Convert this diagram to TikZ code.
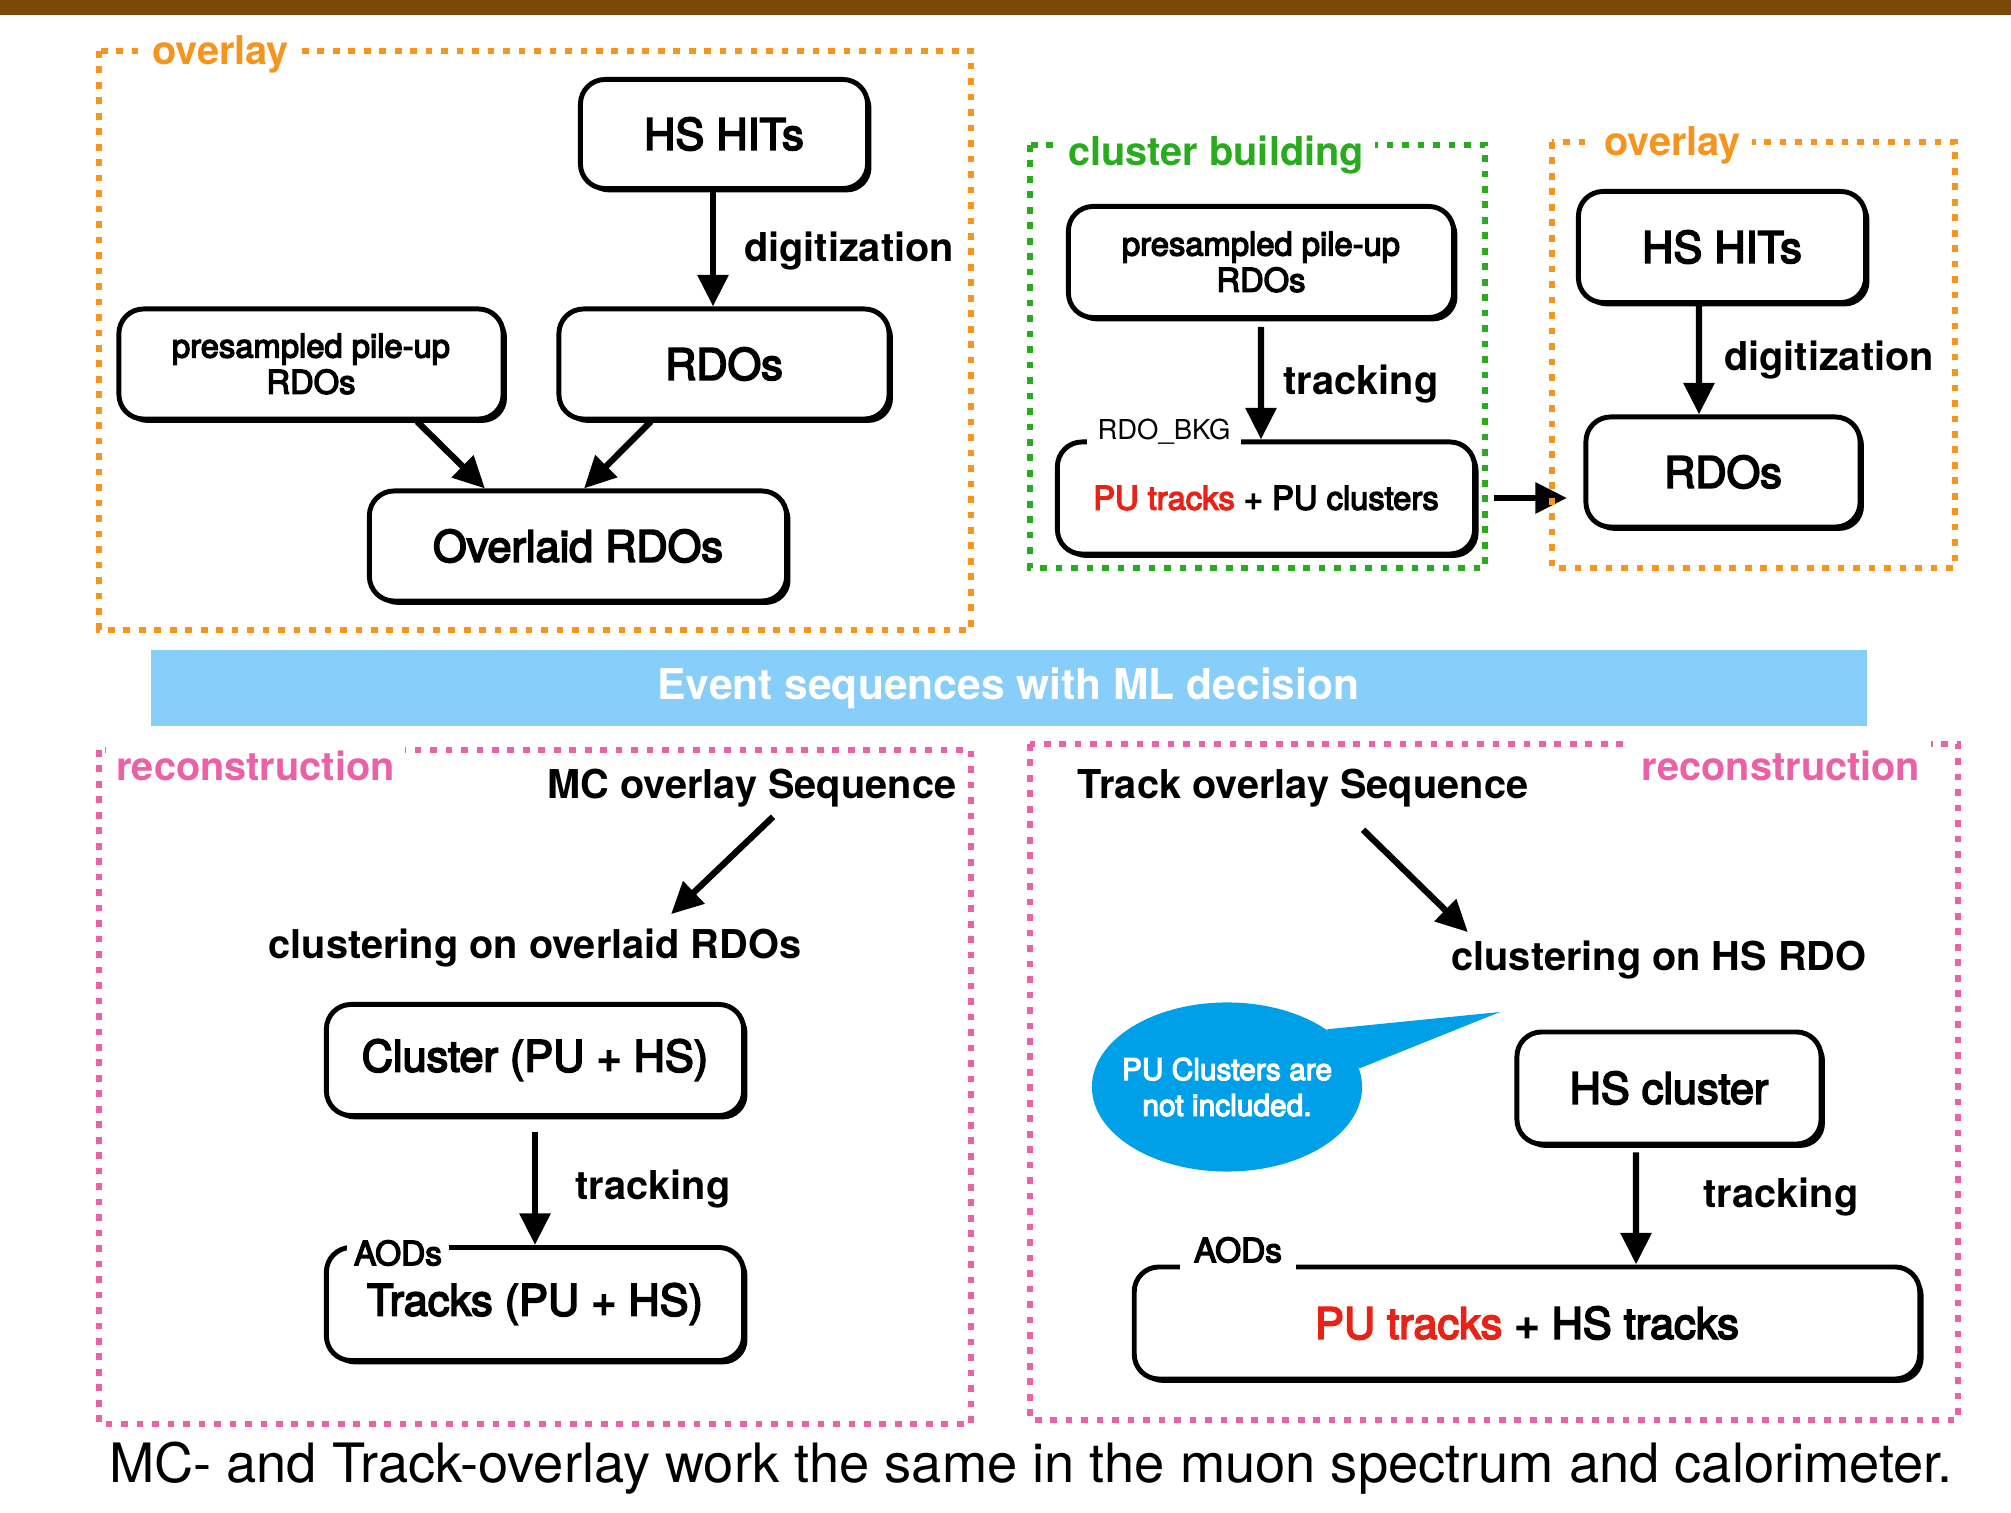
\documentclass[tikz,border=0pt]{standalone}
\usepackage{fontspec}
\setmainfont{TeX Gyre Heros}
\newfontfamily\medfont[FakeBold=4]{TeX Gyre Heros}
\usetikzlibrary{arrows.meta,shadows,shapes.geometric}

\definecolor{ovlorange}{RGB}{247,148,30}
\definecolor{clsgreen}{RGB}{40,172,30}
\definecolor{recpink}{RGB}{236,96,166}
\definecolor{bandblue}{RGB}{135,206,250}
\definecolor{bubbleblue}{RGB}{0,160,233}
\definecolor{putred}{RGB}{232,34,22}
\definecolor{barbrown}{RGB}{124,72,10}

\tikzset{
  box/.style={draw, line width=1.4pt, rounded corners=7pt, fill=white, align=center, inner sep=0pt,
    drop shadow={shadow xshift=1.1pt, shadow yshift=-1.1pt, opacity=1, fill=black},
    font=\medfont\fontsize{12.3}{14}\selectfont},
  smallbox/.style={box, font=\medfont\fontsize{9.3}{10.3}\selectfont},
  lbl/.style={font=\bfseries\fontsize{11.3}{13}\selectfont, inner sep=1pt, yshift=-1pt},
  frame/.style={line width=1.9pt, dash pattern=on 1.9pt off 2.5pt},
  frametitle/.style={fill=white, inner sep=3pt, font=\bfseries\fontsize{11.3}{13}\selectfont},
  tag/.style={fill=white, inner sep=2pt, font=\medfont\fontsize{9.5}{11}\selectfont},
  flow/.style={line width=1.8pt, -{Triangle[length=9pt,width=8.5pt]}},
}

\begin{document}
\begin{tikzpicture}[x=0.01cm, y=-0.01cm]
\useasboundingbox (0,0) rectangle (2011,1513);
\fill[barbrown] (0,0) rectangle (2011,15);

% overlay (MC)
\draw[frame, ovlorange] (99,51) rectangle (971,630);
\node[frametitle, text=ovlorange, anchor=west] (ovltitle) at (141,54) {overlay};
\node[box, minimum width=2.87cm, minimum height=1.09cm] (hits) at (724,134) {HS HITs};
\node[smallbox, minimum width=3.84cm, minimum height=1.10cm] (pileup) at (311,364) {presampled pile-up\\RDOs};
\node[box, minimum width=3.30cm, minimum height=1.10cm] (rdos) at (724,364) {RDOs};
\node[box, minimum width=4.17cm, minimum height=1.10cm] (overlaid) at (578,546) {Overlaid RDOs};
\draw[flow] ([xshift=-0.11cm]hits.south) -- ([xshift=-0.11cm]rdos.north);
\node[lbl] (digi) at (849,248) {digitization};
\draw[flow] ([xshift=1.06cm]pileup.south) -- ([xshift=-0.93cm]overlaid.north);
\draw[flow] ([xshift=-0.73cm]rdos.south) -- ([xshift=0.06cm]overlaid.north);

% cluster building
\draw[frame, clsgreen] (1030,145) rectangle (1485,568);
\node[frametitle, text=clsgreen, anchor=west] (clstitle) at (1057,155) {cluster building};
\node[smallbox, minimum width=3.85cm, minimum height=1.11cm] (pileupb) at (1261,262) {presampled pile-up\\RDOs};
\node[smallbox, minimum width=4.17cm, minimum height=1.12cm] (putracks) at (1266,498) {\textcolor{putred}{PU tracks} + PU clusters};
\node[tag, inner xsep=3pt, font=\fontsize{7.8}{9}\selectfont] (bkg) at (1164,432) {RDO\_BKG};
\draw[flow, shorten <=0.07cm] (pileupb.south) -- ([xshift=-0.05cm]putracks.north);
\node[lbl] (trk1) at (1361,381) {tracking};
\coordinate (ovlin) at (1567,498);
\draw[flow, shorten <=0.17cm] (putracks.east) -- (ovlin);

% overlay (track)
\draw[frame, ovlorange] (1552,142) rectangle (1955,568);
\node[frametitle, text=ovlorange, anchor=west] (ovltitleb) at (1593,145) {overlay};
\node[box, minimum width=2.87cm, minimum height=1.11cm] (hitsb) at (1722,247) {HS HITs};
\node[box, minimum width=2.74cm, minimum height=1.10cm] (rdosb) at (1723,472) {RDOs};
\draw[flow] ([xshift=-0.23cm]hitsb.south) -- ([xshift=-0.24cm]rdosb.north);
\node[lbl] (digib) at (1829,357) {digitization};

% ML band
\node[fill=bandblue, minimum width=17.15cm, minimum height=0.76cm, text=white,
  font=\bfseries\fontsize{12.1}{14}\selectfont] (band) at (1008.5,688) {Event sequences with ML decision};

% reconstruction (MC overlay)
\draw[frame, recpink] (99,750) rectangle (971,1424);
\node[frametitle, text=recpink, anchor=west] (rectitle) at (105,766) {reconstruction};
\node[lbl] (mcseq) at (752,785) {MC overlay Sequence};
\node[lbl] (mcclus) at (535,945) {clustering on overlaid RDOs};
\draw[flow] ([xshift=0.21cm,yshift=-0.05cm]mcseq.south) -- ([xshift=1.36cm,yshift=0.11cm]mcclus.north);
\node[box, minimum width=4.17cm, minimum height=1.11cm] (clus) at (535,1060) {Cluster (PU + HS)};
\node[box, minimum width=4.17cm, minimum height=1.13cm] (tracks) at (535,1304) {Tracks (PU + HS)};
\draw[flow, shorten <=0.14cm] (clus) -- (tracks);
\node[lbl] (trk2) at (653,1186) {tracking};
\node[tag] (aodsa) at (398,1253) {AODs};

% reconstruction (track overlay)
\draw[frame, recpink] (1030,744) rectangle (1958,1420);
\node[frametitle, text=recpink] (rectitleb) at (1781,766) {reconstruction};
\node[lbl] (trkseq) at (1303,785) {Track overlay Sequence};
\node[lbl] (hsclus) at (1659,957) {clustering on HS RDO};
\draw[flow] ([xshift=0.6cm,yshift=-0.18cm]trkseq.south) -- ([xshift=-1.91cm,yshift=0.05cm]hsclus.north);
\node[ellipse, fill=bubbleblue, minimum width=2.70cm, minimum height=1.69cm, inner sep=0pt] (bubble) at (1227,1087) {};
\coordinate (tip) at (1500,1012);
\fill[bubbleblue] (bubble.30) -- (tip) -- (bubble.8) -- cycle;
\node[text=white, align=center, font=\medfont\fontsize{8.5}{10.2}\selectfont] (bubbletext) at (bubble.center) {PU Clusters are\\not included.};
\node[box, minimum width=3.04cm, minimum height=1.12cm] (hsbox) at (1669,1088) {HS cluster};
\node[box, minimum width=7.85cm, minimum height=1.12cm] (puhs) at (1527,1323) {\textcolor{putred}{PU tracks} + HS tracks};
\draw[flow, shorten <=0.06cm] ([xshift=-0.33cm]hsbox.south) -- ([xshift=1.09cm]puhs.north);
\node[lbl] (trk3) at (1781,1194) {tracking};
\node[tag, inner xsep=4pt] (aodsb) at (1238,1250) {AODs};

\node[font=\fontsize{15.43}{18}\selectfont] (caption) at (1031,1468) {MC- and Track-overlay work the same in the muon spectrum and calorimeter.};
\end{tikzpicture}
\end{document}
